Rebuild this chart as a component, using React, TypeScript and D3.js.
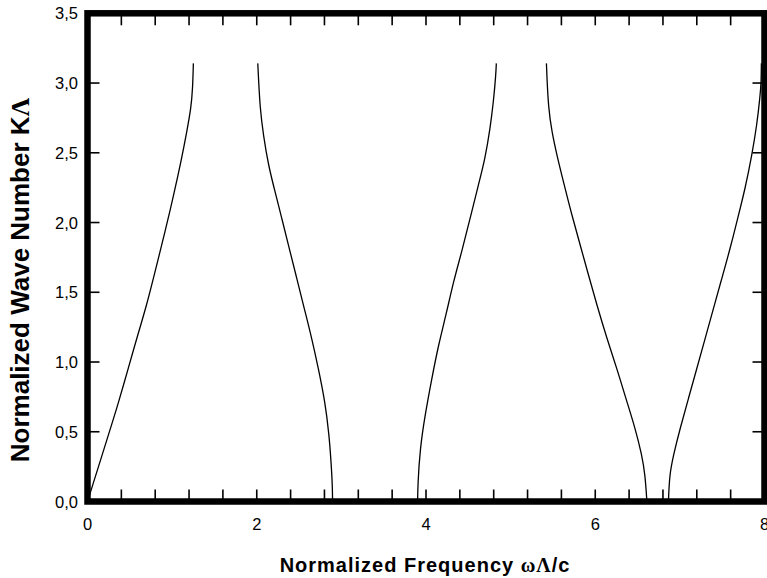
import React, { useEffect, useRef } from 'react';
import { curveBasis, line, scaleLinear, select } from 'd3';

// band branches: [omega*Lambda/c, K*Lambda]
const band1 = [
  [0, 0], [0.266, 0.513], [0.364, 0.704], [0.482, 0.955], [0.582, 1.17], [0.7, 1.409],
  [0.798, 1.647], [0.916, 1.934], [1.014, 2.185], [1.113, 2.46], [1.173, 2.651],
  [1.223, 2.819], [1.243, 2.962], [1.251, 3.141]
];
const band2 = [
  [2.012, 3.141], [2.019, 3.057], [2.039, 2.819], [2.078, 2.627], [2.137, 2.412],
  [2.216, 2.221], [2.296, 2.03], [2.374, 1.839], [2.473, 1.6], [2.571, 1.361],
  [2.65, 1.17], [2.728, 0.955], [2.807, 0.715], [2.855, 0.477], [2.878, 0.285],
  [2.894, 0.118], [2.896, 0]
];
const band3 = [
  [3.901, 0], [3.903, 0.118], [3.93, 0.381], [3.989, 0.62], [4.069, 0.883], [4.147, 1.122],
  [4.246, 1.361], [4.324, 1.576], [4.423, 1.791], [4.521, 2.03], [4.619, 2.269],
  [4.699, 2.46], [4.758, 2.675], [4.797, 2.866], [4.825, 3.057], [4.831, 3.141]
];
const band4 = [
  [5.423, 3.141], [5.428, 3.057], [5.447, 2.819], [5.487, 2.651], [5.546, 2.484],
  [5.624, 2.292], [5.723, 2.054], [5.822, 1.839], [5.92, 1.624], [6.019, 1.409],
  [6.137, 1.17], [6.255, 0.955], [6.374, 0.715], [6.472, 0.525], [6.551, 0.333],
  [6.59, 0.19], [6.61, 0]
];
const band5 = [
  [6.865, 0], [6.877, 0.19], [6.924, 0.333], [7.003, 0.525], [7.102, 0.74], [7.201, 0.955],
  [7.299, 1.17], [7.397, 1.385], [7.496, 1.6], [7.595, 1.815], [7.693, 2.054],
  [7.772, 2.245], [7.851, 2.484], [7.91, 2.699], [7.949, 2.914], [7.961, 3.009], [7.963, 3.141]
];
const bands = [band1, band2, band3, band4, band5];

const xTicks = [0.4, 0.8, 1.2, 1.6, 2, 2.4, 2.8, 3.2, 3.6, 4, 4.4, 4.8, 5.2, 5.6, 6, 6.4, 6.8, 7.2, 7.6];
const xLabels = [0, 2, 4, 6, 8];
const yTicks = [0.5, 1, 1.5, 2, 2.5, 3];
const yLabels = ['0,0', '0,5', '1,0', '1,5', '2,0', '2,5', '3,0', '3,5'];

const W = 767;
const H = 578;
const left = 87.5;
const right = 764.5;
const top = 13.3;
const bottom = 501.5;
const tickLen = 12;

const App = () => {
  const svgRef = useRef<SVGSVGElement>(null);

  useEffect(() => {
    const svg = select(svgRef.current);
    svg.selectAll('*').remove();

    const x = scaleLinear().domain([0, 8]).range([left, right]);
    const y = scaleLinear().domain([0, 3.5]).range([bottom, top]);

    const lineGen = line<number[]>()
      .x(d => x(d[0]))
      .y(d => y(d[1]))
      .curve(curveBasis);

    svg.selectAll('.band')
      .data(bands)
      .join('path')
      .attr('class', 'band')
      .attr('d', d => lineGen(d))
      .attr('fill', 'none')
      .attr('stroke', '#000')
      .attr('stroke-width', 1.3);

    // ticks, pointing inward on all four sides
    const ticks = svg.append('g').attr('stroke', '#000').attr('stroke-width', 1.6);
    xTicks.forEach(v => {
      ticks.append('line').attr('x1', x(v)).attr('x2', x(v)).attr('y1', bottom).attr('y2', bottom - tickLen);
      ticks.append('line').attr('x1', x(v)).attr('x2', x(v)).attr('y1', top).attr('y2', top + tickLen);
    });
    yTicks.forEach(v => {
      ticks.append('line').attr('x1', left).attr('x2', left + tickLen).attr('y1', y(v)).attr('y2', y(v));
      ticks.append('line').attr('x1', right).attr('x2', right - tickLen).attr('y1', y(v)).attr('y2', y(v));
    });

    // thick frame
    svg.append('rect')
      .attr('x', left)
      .attr('y', top)
      .attr('width', right - left)
      .attr('height', bottom - top)
      .attr('fill', 'none')
      .attr('stroke', '#000')
      .attr('stroke-width', 6.5);

    const font = 'Arial, "Liberation Sans", sans-serif';

    svg.selectAll('.xlabel')
      .data(xLabels)
      .join('text')
      .attr('class', 'xlabel')
      .attr('x', d => x(d))
      .attr('y', 529.5)
      .attr('text-anchor', 'middle')
      .style('font-family', font)
      .style('font-size', '16.5px')
      .text(d => String(d));

    svg.selectAll('.ylabel')
      .data(yLabels)
      .join('text')
      .attr('class', 'ylabel')
      .attr('x', 78)
      .attr('y', (d, i) => y(i * 0.5) + 6)
      .attr('text-anchor', 'end')
      .style('font-family', font)
      .style('font-size', '16.5px')
      .text(d => d);

    const xTitle = svg.append('text')
      .attr('x', 425)
      .attr('y', 572)
      .attr('text-anchor', 'middle')
      .style('font-family', font)
      .style('font-size', '20px')
      .style('letter-spacing', '1px')
      .style('font-weight', 'bold');
    xTitle.append('tspan').text('Normalized Frequency ');
    xTitle.append('tspan').style('font-family', '"Liberation Serif", serif').text('ωΛ');
    xTitle.append('tspan').text('/c');

    const yTitle = svg.append('text')
      .attr('transform', `translate(29, 280) rotate(-90)`)
      .attr('text-anchor', 'middle')
      .style('font-family', font)
      .style('font-size', '26px')
      .style('font-weight', 'bold');
    yTitle.append('tspan').text('Normalized Wave Number K');
    yTitle.append('tspan').style('font-family', '"Liberation Serif", serif').text('Λ');
  }, []);

  return (
    <svg
      ref={svgRef}
      width={W}
      height={H}
      style={{ position: 'absolute', left: 0, top: 0, background: '#fff' }}
    />
  );
};

export default App;
